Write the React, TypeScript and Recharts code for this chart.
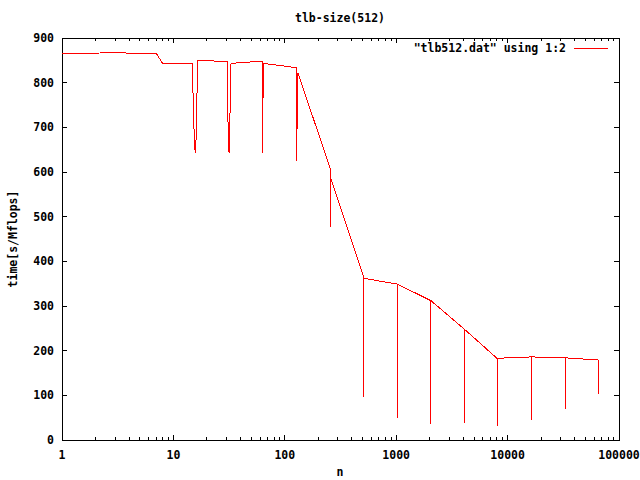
import React from 'react';
import { LineChart, Line, XAxis, YAxis, ReferenceArea } from 'recharts';

const nValues = [
  1, 2, 3, 4, 5, 6, 7, 8, 10, 12,
  14.8, 14.9, 15.1, 15.4, 15.7, 16.0, 16.2, 16.4, 16.6, 22, 24,
  30.3, 30.5, 31, 31.6, 32.3, 32.9, 40, 55,
  63, 63, 63.7, 64, 80, 100,
  128, 128, 129, 131,
  256, 256, 257,
  512, 512, 513,
  1024, 1024, 1025,
  2048, 2048, 2049,
  4096, 4096, 4097,
  8192, 8192, 8193,
  16384, 16384, 16385,
  32768, 32768, 32769,
  65536, 65536,
];
const times = [
  866, 866, 868, 866, 866, 866, 866, 843, 843, 843,
  843, 810, 744, 677, 642, 677, 744, 815, 850, 850, 847,
  847, 798, 696, 642, 743, 843, 845, 847,
  848, 642, 746, 843, 840, 837,
  833, 624, 724, 822,
  608, 477, 588,
  364, 97, 362,
  349, 50, 349,
  312, 36, 312,
  248, 37, 248,
  181, 32, 183,
  186, 45, 186,
  184, 69, 184,
  179, 103,
];

const xMajor = [1, 10, 100, 1000, 10000, 100000];
const xTicks = [
  1, 2, 3, 4, 5, 6, 7, 8, 9,
  10, 20, 30, 40, 50, 60, 70, 80, 90,
  100, 200, 300, 400, 500, 600, 700, 800, 900,
  1000, 2000, 3000, 4000, 5000, 6000, 7000, 8000, 9000,
  10000, 20000, 30000, 40000, 50000, 60000, 70000, 80000, 90000,
  100000,
];
const yTicks = [0, 100, 200, 300, 400, 500, 600, 700, 800, 900];

const data = nValues.map((n, i) => ({ n, t: times[i] }));

// plot box edges (margins + axis sizes below give these)
const PLOT = { left: 62, right: 619, top: 38, bottom: 440 };
const FONT = '"DejaVu Sans Mono", monospace';

const XTick = (props: any) => {
  const { x, payload } = props;
  const major = xMajor.includes(payload.value);
  const len = major ? 5 : 3;
  return (
    <g shapeRendering="crispEdges">
      <line x1={x} x2={x} y1={PLOT.bottom} y2={PLOT.bottom - len} stroke="#000" />
      <line x1={x} x2={x} y1={PLOT.top} y2={PLOT.top + len} stroke="#000" />
      {major && (
        <text x={x} y={PLOT.bottom + 19} textAnchor="middle" fontFamily={FONT} fontWeight="bold" fontSize={11.5} fill="#000">
          {payload.value}
        </text>
      )}
    </g>
  );
};

const YTick = (props: any) => {
  const { y, payload } = props;
  return (
    <g shapeRendering="crispEdges">
      <line x1={PLOT.left} x2={PLOT.left + 5} y1={y} y2={y} stroke="#000" />
      <line x1={PLOT.right} x2={PLOT.right - 5} y1={y} y2={y} stroke="#000" />
      <text x={PLOT.left - 8} y={y + 4} textAnchor="end" fontFamily={FONT} fontWeight="bold" fontSize={11.5} fill="#000">
        {payload.value}
      </text>
    </g>
  );
};

export default function App() {
  return (
    <div style={{ position: 'absolute', left: 0, top: 0, width: 640, height: 480, background: '#fff' }}>
      <LineChart width={640} height={480} data={data} margin={{ top: 38, right: 21, left: 12, bottom: 10 }}>
        <XAxis
          dataKey="n"
          type="number"
          scale="log"
          domain={[1, 100000]}
          ticks={xTicks}
          interval={0}
          allowDataOverflow
          height={30}
          axisLine={false}
          tickLine={false}
          tick={<XTick />}
        />
        <YAxis
          type="number"
          domain={[0, 900]}
          ticks={yTicks}
          interval={0}
          width={50}
          axisLine={false}
          tickLine={false}
          tick={<YTick />}
        />
        <ReferenceArea x1={1} x2={100000} y1={0} y2={900} fill="none" stroke="#000" strokeWidth={1} shapeRendering="crispEdges" />
        <Line
          type="linear"
          dataKey="t"
          stroke="#ff0000"
          strokeWidth={1}
          dot={false}
          activeDot={false}
          isAnimationActive={false}
          shapeRendering="crispEdges"
        />
      </LineChart>
      <svg width={640} height={480} style={{ position: 'absolute', left: 0, top: 0, pointerEvents: 'none' }}>
        <text x={340} y={22} textAnchor="middle" fontFamily={FONT} fontWeight="bold" fontSize={11.5}>tlb-size(512)</text>
        <text x={340} y={476} textAnchor="middle" fontFamily={FONT} fontWeight="bold" fontSize={11.5}>n</text>
        <text x={17} y={239} textAnchor="middle" fontFamily={FONT} fontWeight="bold" fontSize={11.5} transform="rotate(-90 17 239)">
          time[s/Mflops]
        </text>
        {/* legend */}
        <text x={566} y={52} textAnchor="end" fontFamily={FONT} fontWeight="bold" fontSize={11.5}>"tlb512.dat" using 1:2</text>
        <line x1={574} x2={608} y1={48} y2={48} stroke="#ff0000" shapeRendering="crispEdges" />
      </svg>
    </div>
  );
}
